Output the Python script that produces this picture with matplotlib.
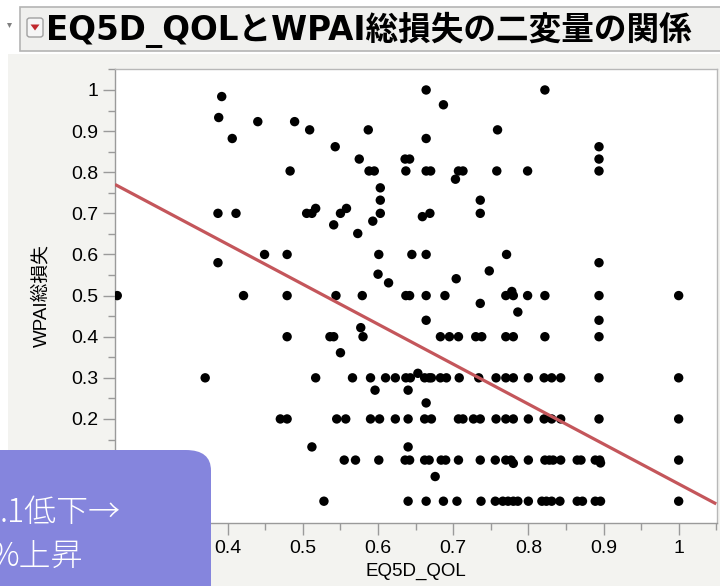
import numpy as np
import matplotlib.pyplot as plt
from matplotlib.patches import Rectangle, FancyBboxPatch, Polygon

# EQ5D_QOL (x) と WPAI総損失 (y) -- 値は画像から読み取り
qol = [
    # y ~ 0.9 - 1.0
    0.664, 0.822, 0.687, 0.392, 0.388, 0.440, 0.489, 0.509, 0.587, 0.759,
    0.406, 0.664, 0.894, 0.543, 0.575, 0.636, 0.642, 0.894,
    # 0.8 row
    0.483, 0.588, 0.595, 0.637, 0.664, 0.670, 0.707, 0.713, 0.758, 0.799, 0.894,
    0.703, 0.603, 0.603, 0.736,
    # 0.7 row
    0.387, 0.411, 0.505, 0.512, 0.550, 0.603, 0.669, 0.736,
    0.517, 0.558, 0.659, 0.593, 0.541, 0.573,
    # 0.6 row
    0.449, 0.479, 0.601, 0.645, 0.664, 0.771,
    0.387, 0.894, 0.748, 0.600, 0.704, 0.614,
    # 0.5 row
    0.253, 0.421, 0.479, 0.544, 0.579, 0.637, 0.642, 0.664, 0.689, 0.770,
    0.780, 0.799, 0.822, 0.894, 1.000,
    0.778, 0.736, 0.786, 0.664, 0.894, 0.577,
    # 0.4 row
    0.479, 0.536, 0.541, 0.580, 0.683, 0.695, 0.707, 0.730, 0.738, 0.770,
    0.780, 0.822, 0.894,
    0.550, 0.653,
    # 0.3 row
    0.370, 0.517, 0.566, 0.590, 0.610, 0.623, 0.637, 0.643, 0.662, 0.668,
    0.671, 0.683, 0.691, 0.708, 0.734, 0.757, 0.770, 0.780, 0.800, 0.821,
    0.831, 0.843, 0.894, 1.000,
    0.596, 0.640, 0.664,
    # 0.2 row
    0.470, 0.479, 0.545, 0.557, 0.590, 0.602, 0.623, 0.640, 0.662, 0.671,
    0.707, 0.713, 0.727, 0.736, 0.757, 0.770, 0.780, 0.800, 0.821, 0.831,
    0.843, 0.894, 1.000,
    0.512, 0.640,
    # 0.1 row
    0.555, 0.570, 0.601, 0.636, 0.642, 0.662, 0.668, 0.684, 0.690, 0.707,
    0.736, 0.756, 0.770, 0.777, 0.800, 0.822, 0.828, 0.833, 0.843, 0.865,
    0.870, 0.889, 0.895, 1.000,
    0.780, 0.896, 0.676,
    # 0 row
    0.528, 0.640, 0.664, 0.687, 0.705, 0.737, 0.756, 0.766, 0.773, 0.780,
    0.786, 0.800, 0.818, 0.824, 0.831, 0.842, 0.865, 0.872, 0.889, 0.896,
    1.000,
]
wpai = (
    [1.0, 1.0, 0.964, 0.984, 0.933, 0.923, 0.923, 0.903, 0.903, 0.903,
     0.882, 0.882, 0.862, 0.862, 0.832, 0.832, 0.832, 0.832]
    + [0.803] * 11 + [0.783, 0.762, 0.732, 0.732]
    + [0.70] * 8 + [0.712, 0.712, 0.692, 0.681, 0.672, 0.651]
    + [0.60] * 6 + [0.58, 0.58, 0.56, 0.552, 0.541, 0.531]
    + [0.50] * 15 + [0.51, 0.481, 0.46, 0.44, 0.44, 0.422]
    + [0.40] * 13 + [0.361, 0.311]
    + [0.30] * 24 + [0.27, 0.27, 0.239]
    + [0.20] * 23 + [0.132, 0.132]
    + [0.10] * 24 + [0.092, 0.093, 0.06]
    + [0.0] * 21
)

# 回帰直線
fit_intercept = 1.013
fit_slope = -0.971

# ticks hidden under the callout box get empty labels
xticks = [0.3, 0.4, 0.5, 0.6, 0.7, 0.8, 0.9, 1.0]
xticklabels = ['', '0.4', '0.5', '0.6', '0.7', '0.8', '0.9', '1']
yticks = [0.0, 0.1, 0.2, 0.3, 0.4, 0.5, 0.6, 0.7, 0.8, 0.9, 1.0]
yticklabels = ['', '', '0.2', '0.3', '0.4', '0.5', '0.6', '0.7', '0.8', '0.9', '1']

plt.rcParams['font.family'] = ['Liberation Sans', 'Noto Sans CJK JP', 'DejaVu Sans']

W, H = 720, 586
fig = plt.figure(figsize=(W / 100, H / 100), dpi=100)
fig.patch.set_facecolor('white')


def px(x, y):
    # pixel (top-left origin) -> figure fraction
    return x / W, 1 - y / H


# gray panel behind the plot
fig.add_artist(Rectangle((8 / W, 0), (W - 8) / W, (H - 54) / H,
                         transform=fig.transFigure, facecolor='#F3F3F0',
                         edgecolor='none', zorder=0))
# title bar
fig.add_artist(Rectangle((20 / W, 1 - 51 / H), (W - 20) / W + 0.01, 44 / H,
                         transform=fig.transFigure, facecolor='#F0F0EE',
                         edgecolor='#B4B4B4', linewidth=1.2, zorder=1))
# disclosure triangle and red menu icon
fig.add_artist(Polygon([px(7, 23), px(12, 23), px(9.5, 28)], closed=True,
                       transform=fig.transFigure, facecolor='#808080',
                       edgecolor='none', zorder=2))
fig.add_artist(FancyBboxPatch(px(27, 37), 16 / W, 19 / H,
                              boxstyle='round,pad=0,rounding_size=0.004',
                              transform=fig.transFigure, facecolor='#F6F6F6',
                              edgecolor='#A0A0A0', linewidth=1, zorder=2))
fig.add_artist(Polygon([px(30.5, 24.5), px(39.5, 24.5), px(35, 30.5)], closed=True,
                       transform=fig.transFigure, facecolor='#C0282D',
                       edgecolor='none', zorder=3))
fig.text(46 / W, 1 - 30 / H, 'EQ5D_QOLとWPAI総損失の二変量の関係',
         fontsize=23.5, fontweight='bold', color='black', va='center', ha='left',
         zorder=3, family=['DejaVu Sans', 'Noto Sans CJK JP'])

ax = fig.add_axes([115 / W, 1 - 523 / H, (717 - 115) / W, (523 - 69) / H])
ax.set_facecolor('white')
ax.set_zorder(2)

ax.scatter(qol, wpai, s=46, color='black', edgecolors='none', zorder=3)
xl = np.array([0.25, 1.05])
ax.plot(xl, fit_intercept + fit_slope * xl, color='#C4565B', linewidth=2.3,
        zorder=4, solid_capstyle='butt')

ax.set_xlim(0.25, 1.051)
ax.set_ylim(-0.053, 1.051)
ax.set_xticks(xticks)
ax.set_xticklabels(xticklabels)
ax.set_yticks(yticks)
ax.set_yticklabels(yticklabels)
ax.set_xticks(np.arange(0.25, 1.06, 0.05), minor=True)
ax.set_yticks(np.arange(-0.05, 1.06, 0.05), minor=True)
ax.tick_params(which='major', length=8.5, width=1, color='#9A9A9A',
               labelsize=14)
ax.tick_params(axis='y', which='major', pad=3.5)
ax.tick_params(axis='x', which='major', pad=4)
ax.tick_params(which='minor', length=5, width=1, color='#9A9A9A')
for s in ax.spines.values():
    s.set_color('#B8B8B8')
    s.set_linewidth(1)
ax.spines['left'].set_color('#9A9A9A')
ax.spines['bottom'].set_color('#9A9A9A')

ax.set_xlabel('EQ5D_QOL', fontsize=13.5, va='center')
ax.set_ylabel('WPAI総損失', fontsize=13.5, va='center')
ax.xaxis.set_label_coords(0.5, -0.106)
ax.yaxis.set_label_coords(-0.122, 0.5)

# purple callout box (partly outside the canvas)
fig.add_artist(FancyBboxPatch((-60 / W, -40 / H), (211 + 60) / W, (H - 450 + 40) / H,
                              boxstyle='round,pad=0,rounding_size=0.035',
                              transform=fig.transFigure, facecolor='#8585DD',
                              edgecolor='none', zorder=10))
fig.text(0.0, 1 - 513 / H, '.1低下→', fontsize=23, fontweight='light',
         color='white', va='center', ha='left', zorder=11,
         family=['Noto Sans CJK JP', 'DejaVu Sans'])
fig.text(-9 / W, 1 - 558 / H, '%上昇', fontsize=23, fontweight='light',
         color='white', va='center', ha='left', zorder=11,
         family=['Noto Sans CJK JP', 'DejaVu Sans'])

fig.savefig('out.png', dpi=100)
